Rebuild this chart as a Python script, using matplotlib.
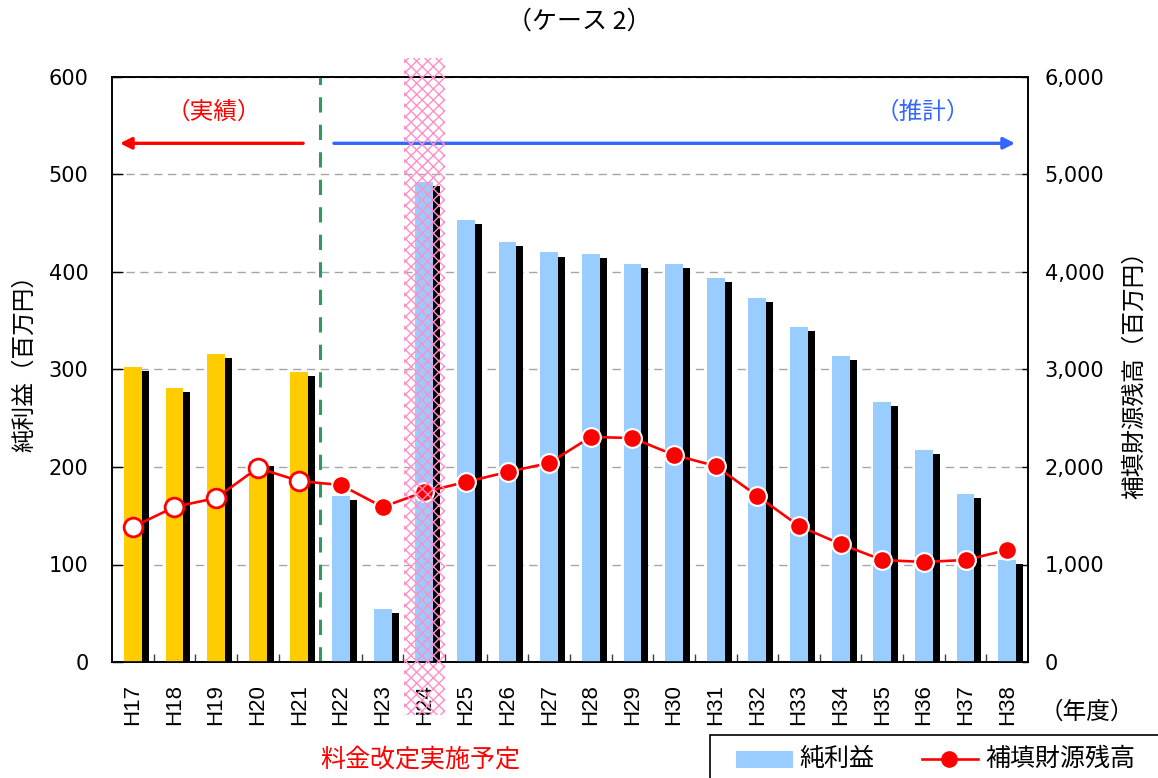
import matplotlib
matplotlib.use("Agg")
import matplotlib.pyplot as plt
import matplotlib.patheffects as pe
from matplotlib.patches import Rectangle
from matplotlib.lines import Line2D
from matplotlib.transforms import blended_transform_factory
from matplotlib.ticker import FuncFormatter, FixedLocator

plt.rcParams['font.family'] = ['Noto Sans CJK JP', 'DejaVu Sans']
plt.rcParams['hatch.linewidth'] = 1.0

# 年度
years = ['H17', 'H18', 'H19', 'H20', 'H21', 'H22', 'H23', 'H24', 'H25', 'H26', 'H27',
         'H28', 'H29', 'H30', 'H31', 'H32', 'H33', 'H34', 'H35', 'H36', 'H37', 'H38']
# 純利益（百万円）
net_profit = [303, 281, 316, 205, 297, 170, 54, 492, 453, 431, 420,
              418, 408, 408, 394, 373, 344, 314, 267, 217, 172, 105]
# 補填財源残高（百万円）
reserve = [1385, 1590, 1682, 1990, 1856, 1815, 1590, 1744, 1846, 1949, 2041,
           2308, 2297, 2123, 2010, 1703, 1395, 1210, 1046, 1026, 1046, 1149]
n_actual = 5          # H17〜H21 は実績
revision_year = 'H24'  # 料金改定実施予定

YELLOW = '#ffcc00'
LBLUE = '#99ccff'
RED = '#ff0000'
BLUE = '#3366ff'
PINK = '#ff8fc8'

fig = plt.figure(figsize=(11.58, 7.78), dpi=100)
ax = fig.add_axes([112 / 1158, 1 - 662 / 778, (1028 - 112) / 1158, (662 - 77) / 778])
ax2 = ax.twinx()

x = list(range(len(years)))
colors = [YELLOW if i < n_actual else LBLUE for i in x]
shadow = [pe.SimplePatchShadow(offset=(5.0, -2.9), shadow_rgbFace='black', alpha=1.0), pe.Normal()]
bars = ax.bar(x, net_profit, width=0.43, color=colors, zorder=3)
for b in bars:
    b.set_path_effects(shadow)

ax.set_xlim(-0.5, len(years) - 0.5)
ax.set_ylim(0, 600)
ax.set_yticks(range(0, 601, 100))
ax.yaxis.grid(True, color='#a6a6a6', linestyle=(0, (6, 4)), linewidth=1.0, zorder=0)
ax.set_axisbelow(True)
ax.set_xticks(x)
ax.set_xticklabels(years, rotation=90, fontsize=16, family=['Liberation Sans', 'DejaVu Sans'])
ax.tick_params(axis='x', which='major', length=0, pad=16)
ax.xaxis.set_minor_locator(FixedLocator([i + 0.5 for i in range(len(years) - 1)]))
ax.tick_params(axis='x', which='minor', direction='in', length=6, width=1, color='#404040')
ax.tick_params(axis='y', direction='in', length=8, width=1, pad=17, labelsize=15)
for lab in ax.get_yticklabels():
    lab.set_family(['DejaVu Sans'])
for s in ax.spines.values():
    s.set_color('black')
    s.set_linewidth(1.2)

# 実績／推計の境界
ax.axvline(n_actual - 0.5, color='#2e9a5e', linestyle=(0, (5, 4)), linewidth=2.2, zorder=4)

# 実績・推計の矢印
ax.annotate('', xy=(-0.31, 532), xytext=(4.09, 532),
            arrowprops=dict(arrowstyle='-|>', color=RED, lw=2.4, mutation_scale=17,
                            shrinkA=0, shrinkB=0), zorder=5)
ax.annotate('', xy=(21.19, 532), xytext=(4.83, 532),
            arrowprops=dict(arrowstyle='-|>', color=BLUE, lw=2.4, mutation_scale=17,
                            shrinkA=0, shrinkB=0), zorder=5)
ax.text(1.95, 564, '（実績）', color=RED, ha='center', va='center', fontsize=17)
ax.text(18.98, 564, '（推計）', color=BLUE, ha='center', va='center', fontsize=17)

# 補填財源残高の折れ線
ax2.plot(x, reserve, color=RED, linewidth=1.9, zorder=3)
ax2.plot(x[:n_actual], reserve[:n_actual], linestyle='none', marker='o', markersize=13.5,
         markerfacecolor='white', markeredgecolor=RED, markeredgewidth=2.0, zorder=4)
ax2.plot(x[n_actual:], reserve[n_actual:], linestyle='none', marker='o', markersize=13.5,
         markerfacecolor=RED, markeredgecolor='white', markeredgewidth=1.5, zorder=4)
ax2.set_ylim(0, 6000)
ax2.set_yticks(range(0, 6001, 1000))
ax2.yaxis.set_major_formatter(FuncFormatter(lambda v, p: f'{int(v):,}'))
ax2.tick_params(axis='y', direction='in', length=4, width=1, pad=12, labelsize=15)
for lab in ax2.get_yticklabels():
    lab.set_family(['DejaVu Sans'])
for s in ax2.spines.values():
    s.set_color('black')
    s.set_linewidth(1.2)

# 料金改定年度の網掛け
ri = years.index(revision_year)
band_tr = blended_transform_factory(ax2.transData, ax2.transAxes)
band = Rectangle((ri - 0.49, -0.0906), 0.98, 1.0325 + 0.0906, transform=band_tr,
                 facecolor='none', edgecolor=PINK, linewidth=0, hatch='xxx',
                 clip_on=False, zorder=20)
ax2.add_patch(band)

# 軸ラベル・注記
fig.text(0.5, 1 - 22 / 778, '（ケース 2）', ha='center', va='center', fontsize=18)
fig.text(25 / 1158, 1 - 358 / 778, '純利益（百万円）', rotation=90, ha='center', va='center', fontsize=17)
fig.text(1135 / 1158, 1 - 369 / 778, '補填財源残高（百万円）', rotation=90, ha='center', va='center', fontsize=17)
fig.text(1087 / 1158, 1 - 712 / 778, '（年度）', ha='center', va='center', fontsize=17)
fig.text(420 / 1158, 1 - 760 / 778, '料金改定実施予定', color=RED, ha='center', va='center', fontsize=18)

# 凡例
fig.patches.append(Rectangle((710 / 1158, -0.05), 0.5, 0.05 + 43 / 778, transform=fig.transFigure,
                             facecolor='white', edgecolor='black', linewidth=1.2))
fig.patches.append(Rectangle((736 / 1158, 1 - 768 / 778), 57 / 1158, 17 / 778,
                             transform=fig.transFigure, facecolor=LBLUE, edgecolor='none'))
fig.text(799 / 1158, 1 - 759 / 778, '純利益', ha='left', va='center', fontsize=18)
fig.lines.append(Line2D([922 / 1158, 978 / 1158], [1 - 759 / 778] * 2, transform=fig.transFigure,
                        color=RED, linewidth=1.9))
fig.lines.append(Line2D([949 / 1158], [1 - 759 / 778], transform=fig.transFigure, color=RED,
                        marker='o', markersize=11, linestyle='none'))
fig.text(985 / 1158, 1 - 759 / 778, '補填財源残高', ha='left', va='center', fontsize=18)

fig.savefig('out.png', dpi=100)
